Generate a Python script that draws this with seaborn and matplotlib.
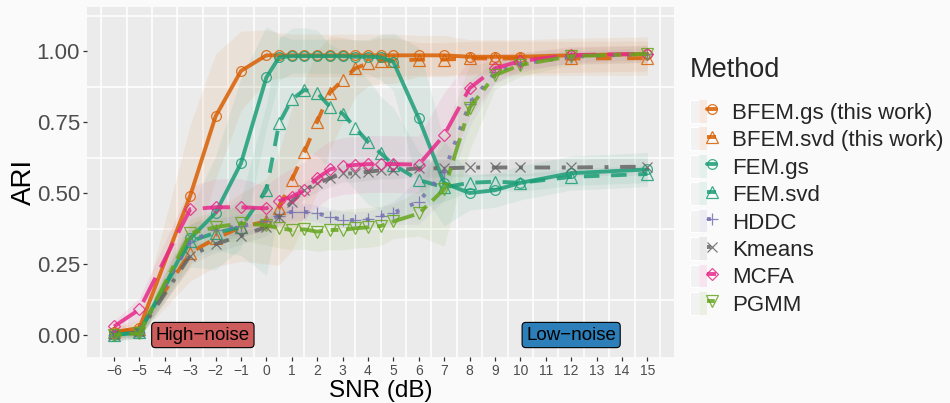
import matplotlib
matplotlib.use("Agg")
import matplotlib.pyplot as plt
import seaborn as sns
from matplotlib.lines import Line2D
from matplotlib.patches import Patch
from matplotlib.legend_handler import HandlerTuple
import numpy as np

# SNR grid (dB)
snr = [-6, -5, -3, -2, -1, 0, 0.5, 1, 1.5, 2, 2.5, 3, 3.5, 4, 4.5, 5, 6, 7, 8, 9, 10, 12, 15]

methods = ["BFEM.gs (this work)", "BFEM.svd (this work)", "FEM.gs", "FEM.svd",
           "HDDC", "Kmeans", "MCFA", "PGMM"]

# mean ARI per method
ari_bfem_gs = [0.01, 0.025, 0.49, 0.77, 0.93, 0.985, 0.985, 0.985, 0.985, 0.985, 0.985, 0.985,
               0.985, 0.985, 0.985, 0.985, 0.985, 0.985, 0.98, 0.98, 0.98, 0.985, 0.99]
ari_bfem_svd = [0.01, 0.02, 0.29, 0.34, 0.38, 0.40, 0.446, 0.546, 0.645, 0.751, 0.853, 0.898,
                0.939, 0.957, 0.966, 0.966, 0.97, 0.97, 0.974, 0.974, 0.974, 0.974, 0.975]
ari_fem_gs = [0.0, 0.01, 0.34, 0.43, 0.605, 0.907, 0.978, 0.982, 0.982, 0.982, 0.982, 0.982,
              0.98, 0.98, 0.978, 0.962, 0.763, 0.535, 0.50, 0.51, 0.536, 0.57, 0.583]
ari_fem_svd = [0.0, 0.01, 0.33, 0.36, 0.38, 0.51, 0.745, 0.83, 0.863, 0.853, 0.804, 0.78,
               0.73, 0.68, 0.64, 0.60, 0.546, 0.52, 0.536, 0.54, 0.536, 0.557, 0.567]
ari_hddc = [0.0, 0.01, 0.33, 0.37, 0.385, 0.40, 0.42, 0.434, 0.434, 0.428, 0.417, 0.405,
            0.405, 0.407, 0.419, 0.43, 0.47, 0.575, 0.815, 0.925, 0.955, 0.98, 0.99]
ari_kmeans = [0.0, 0.01, 0.28, 0.32, 0.35, 0.38, 0.417, 0.47, 0.51, 0.534, 0.552, 0.569,
              0.569, 0.575, 0.58, 0.58, 0.587, 0.587, 0.59, 0.59, 0.59, 0.59, 0.593]
ari_mcfa = [0.03, 0.09, 0.443, 0.45, 0.45, 0.446, 0.472, 0.487, 0.51, 0.552, 0.583, 0.595,
            0.599, 0.602, 0.602, 0.602, 0.60, 0.704, 0.869, 0.939, 0.965, 0.986, 0.99]
ari_pgmm = [0.0, 0.006, 0.358, 0.38, 0.393, 0.387, 0.376, 0.37, 0.372, 0.364, 0.37, 0.37,
            0.376, 0.379, 0.384, 0.40, 0.428, 0.513, 0.80, 0.915, 0.951, 0.982, 0.99]

# standard deviation of ARI per method (ribbon half-width)
sd_bfem_gs = [0.02, 0.03, 0.25, 0.22, 0.14, 0.09, 0.08, 0.075, 0.075, 0.075, 0.075, 0.075,
              0.075, 0.075, 0.075, 0.075, 0.07, 0.07, 0.06, 0.06, 0.06, 0.06, 0.06]
sd_bfem_svd = [0.02, 0.02, 0.1, 0.1, 0.12, 0.15, 0.2, 0.25, 0.25, 0.25, 0.2, 0.15,
               0.1, 0.08, 0.08, 0.08, 0.06, 0.06, 0.06, 0.06, 0.06, 0.06, 0.06]
sd_fem_gs = [0.01, 0.02, 0.1, 0.2, 0.3, 0.18, 0.08, 0.06, 0.06, 0.06, 0.06, 0.06,
             0.06, 0.06, 0.08, 0.1, 0.25, 0.15, 0.06, 0.06, 0.06, 0.06, 0.06]
sd_fem_svd = [0.01, 0.02, 0.06, 0.06, 0.1, 0.3, 0.3, 0.25, 0.22, 0.22, 0.22, 0.22,
              0.22, 0.22, 0.2, 0.2, 0.1, 0.05, 0.03, 0.03, 0.03, 0.03, 0.03]
sd_hddc = [0.02, 0.02, 0.04, 0.04, 0.04, 0.03, 0.03, 0.03, 0.03, 0.03, 0.03, 0.03,
           0.03, 0.03, 0.03, 0.04, 0.08, 0.1, 0.08, 0.04, 0.03, 0.02, 0.02]
sd_kmeans = [0.02, 0.02, 0.03, 0.03, 0.03, 0.03, 0.03, 0.03, 0.03, 0.03, 0.03, 0.03,
             0.03, 0.03, 0.03, 0.03, 0.03, 0.03, 0.03, 0.03, 0.03, 0.03, 0.03]
sd_mcfa = [0.02, 0.04, 0.08, 0.1, 0.1, 0.08, 0.09, 0.1, 0.1, 0.1, 0.1, 0.1,
           0.1, 0.1, 0.1, 0.1, 0.1, 0.15, 0.1, 0.05, 0.03, 0.03, 0.03]
sd_pgmm = [0.02, 0.02, 0.05, 0.06, 0.06, 0.07, 0.07, 0.07, 0.07, 0.07, 0.07, 0.07,
           0.07, 0.07, 0.07, 0.06, 0.08, 0.2, 0.15, 0.05, 0.04, 0.03, 0.03]

ari = [ari_bfem_gs, ari_bfem_svd, ari_fem_gs, ari_fem_svd, ari_hddc, ari_kmeans, ari_mcfa, ari_pgmm]
sds = [sd_bfem_gs, sd_bfem_svd, sd_fem_gs, sd_fem_svd, sd_hddc, sd_kmeans, sd_mcfa, sd_pgmm]

x_ticks = list(range(-6, 16))
y_ticks = [0.0, 0.25, 0.5, 0.75, 1.0]

colors = ["#D95F02", "#D95F02", "#1B9E77", "#1B9E77", "#7570B3", "#666666", "#E7298A", "#66A61E"]
styles = ["-", (0, (4, 4)), "-", (0, (4, 3)), (0, (1, 3)), (0, (1, 3, 4, 3)), (0, (7, 3)), (0, (2, 2, 6, 2))]
marks = ["o", "^", "o", "^", "+", "x", "D", "v"]
msizes = [7, 8, 7, 8, 9, 7, 6.5, 8]

sns.set_theme(style="darkgrid")
plt.rcParams["font.family"] = ["Liberation Sans", "DejaVu Sans"]
BG = "#FAFAFA"

fig = plt.figure(figsize=(9.5, 4.03), dpi=100, facecolor=BG)
ax = fig.add_axes([0.0919, 0.1141, 0.6176, 0.8677])
ax.set_facecolor("#EBEBEB")

# ribbons (mean +/- sd)
for vals, sd, c in zip(ari, sds, colors):
    v = np.array(vals)
    s = np.array(sd)
    ax.fill_between(snr, v - s, v + s, color=c, alpha=0.08, lw=0, zorder=1)

# lines with hollow markers
for vals, c, ls, mk, ms in zip(ari, colors, styles, marks, msizes):
    sns.lineplot(x=snr, y=vals, ax=ax, color=c, linestyle=ls, linewidth=2.8,
                 marker=mk, markersize=ms, markerfacecolor="none", markeredgecolor=c,
                 markeredgewidth=0.9, alpha=0.85, legend=False, sort=False,
                 errorbar=None, zorder=3)

ax.set_xlim(-7.05, 16.05)
ax.set_ylim(-0.0775, 1.154)
ax.set_xticks(x_ticks)
ax.set_xticklabels([f"\u2212{abs(t)}" if t < 0 else str(t) for t in x_ticks])
ax.set_yticks(y_ticks)
ax.set_yticklabels([f"{t:.2f}" for t in y_ticks])
ax.set_xticks(np.arange(-6.5, 16, 1.0), minor=True)
ax.set_yticks(np.arange(0.125, 1.15, 0.25), minor=True)
ax.grid(False, which="major")
ax.grid(True, which="minor", color="white", linewidth=1.1)
ax.tick_params(axis="both", which="major", direction="out", length=3.2, width=0.9,
               color="#333333", labelcolor="#4D4D4D", pad=1.5, bottom=True, left=True)
ax.tick_params(axis="x", labelsize=10)
ax.tick_params(axis="y", labelsize=16, pad=2)
ax.tick_params(which="minor", length=0)
for sp in ax.spines.values():
    sp.set_visible(False)

# axis titles
fig.text(0.4007, 0.5 / 403, "SNR (dB)", ha="center", va="bottom", fontsize=17.5, color="black")
ax.set_ylabel("ARI", fontsize=20, color="black", labelpad=0)

# regime labels
ax.text(-2.5, 0.0, "High\u2212noise", ha="center", va="center", fontsize=13.5, color="black",
        zorder=5, bbox=dict(boxstyle="round,pad=0.22,rounding_size=0.2", fc="#CD5C5C",
                            ec="black", lw=0.8))
ax.text(12, 0.0, "Low\u2212noise", ha="center", va="center", fontsize=13.5, color="black",
        zorder=5, bbox=dict(boxstyle="round,pad=0.22,rounding_size=0.2", fc="#2C7FB8",
                            ec="black", lw=0.8))

# legend
handles = []
for c, ls, mk, ms in zip(colors, styles, marks, msizes):
    bg = Patch(facecolor="#F2F2F2", edgecolor="white", linewidth=0.8)
    tint = Patch(facecolor=c, alpha=0.1, edgecolor="none")
    ln = Line2D([], [], color=c, lw=2.8, linestyle=ls, marker=mk, markersize=ms,
                markerfacecolor="none", markeredgecolor=c, markeredgewidth=0.9, alpha=0.85)
    handles.append((bg, tint, ln))

leg = fig.legend(handles, methods, handler_map={tuple: HandlerTuple(ndivide=None, pad=0)},
                 loc="upper left", bbox_to_anchor=(0.726, 0.858), frameon=False,
                 fontsize=16, title="Method", title_fontsize=19.5, alignment="left",
                 handlelength=1.2, handleheight=1.2, labelspacing=0.16, handletextpad=0.72,
                 borderpad=0, borderaxespad=0)
leg._legend_box.sep = 12

fig.savefig("out.png", dpi=100, facecolor=BG)
